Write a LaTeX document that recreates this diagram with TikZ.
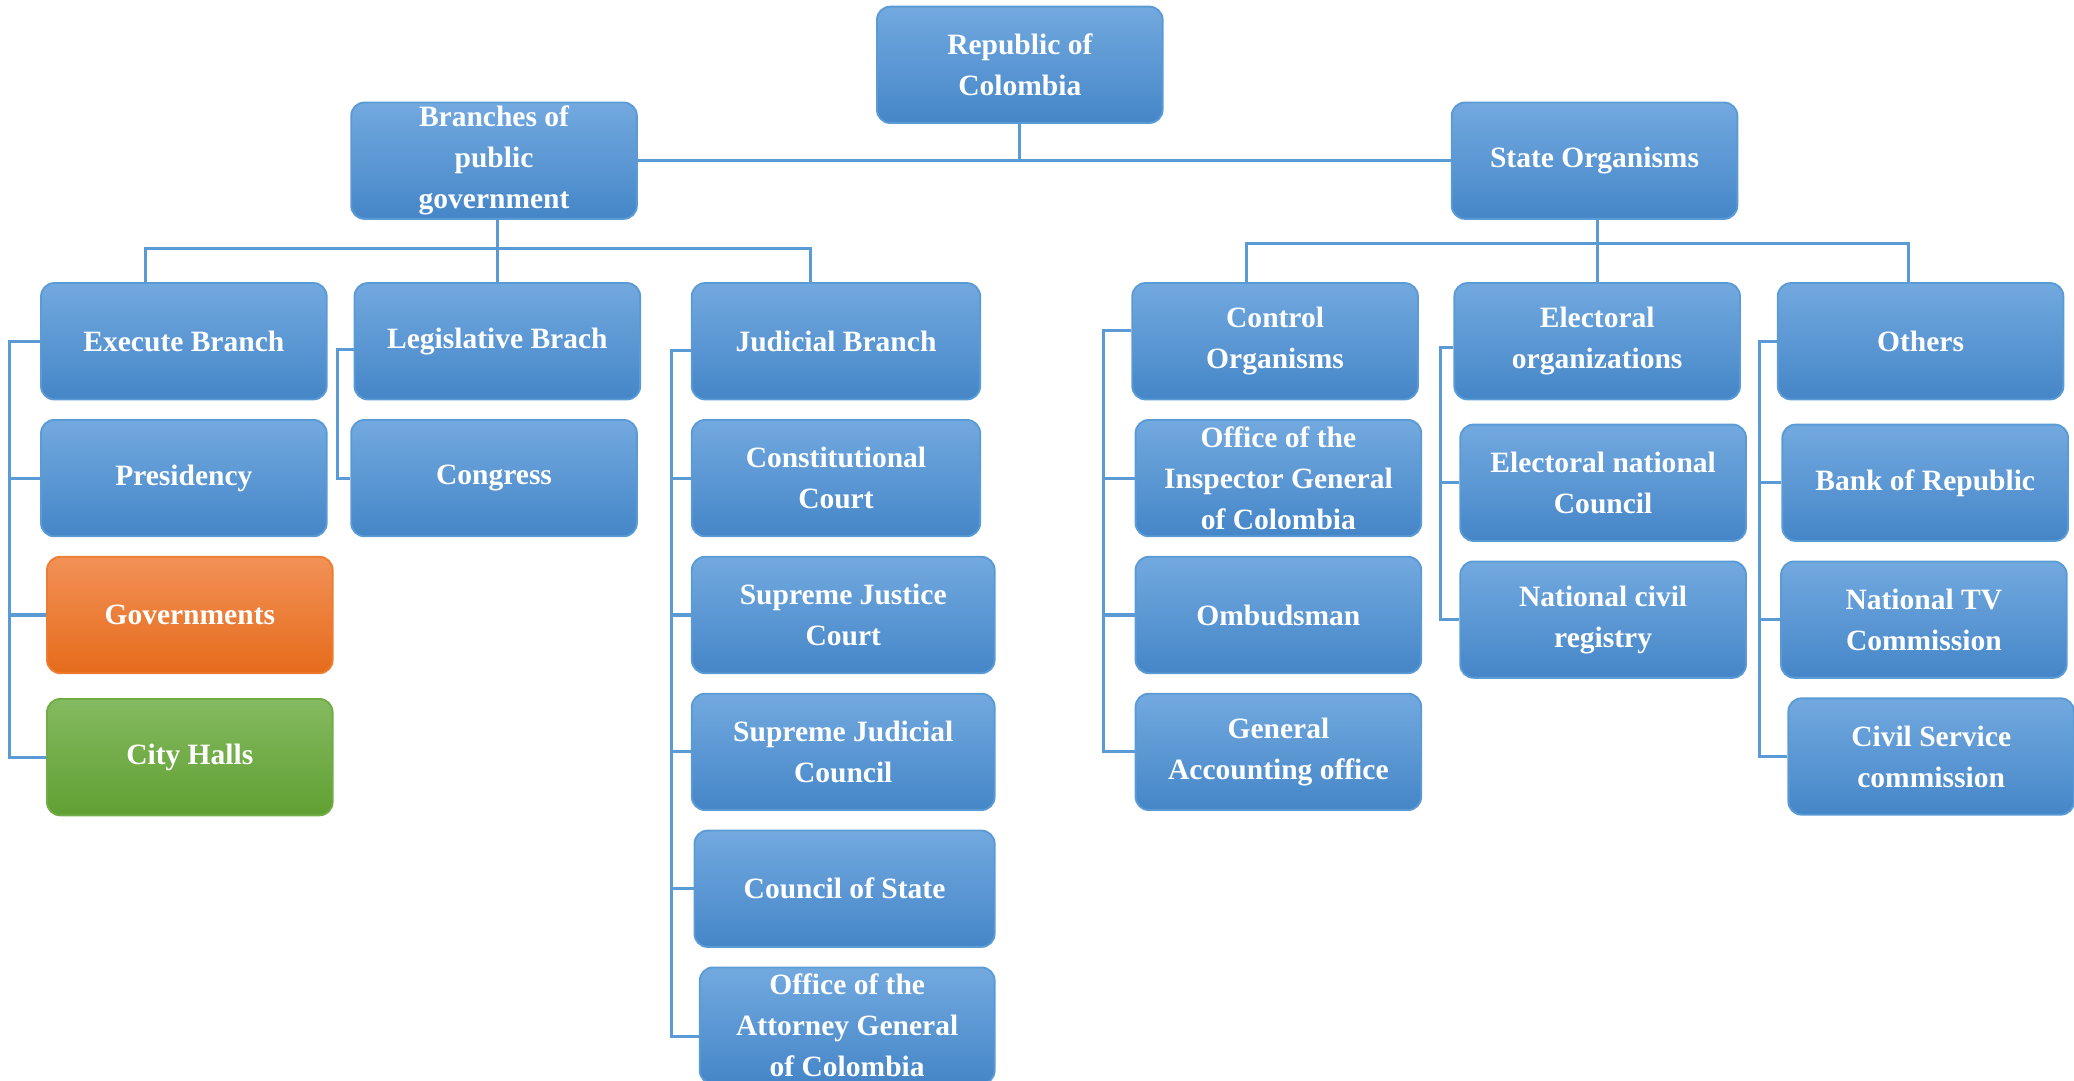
\documentclass[tikz,border=0pt]{standalone}
\usepackage{fontspec}
\setmainfont{Liberation Serif}
\usepackage{xcolor}
\usepackage{tikz}
\usetikzlibrary{shapes.geometric, arrows}
\definecolor{boxtop}{HTML}{72A9DF}
\definecolor{boxbot}{HTML}{4586C8}
\definecolor{boxline}{HTML}{5B9BD5}
\definecolor{orgtop}{HTML}{F29157}
\definecolor{orgbot}{HTML}{E66B1B}
\definecolor{orgline}{HTML}{ED7D31}
\definecolor{grntop}{HTML}{84BA60}
\definecolor{grnbot}{HTML}{60A032}
\definecolor{grnline}{HTML}{70AD47}
\tikzstyle{box} = [rectangle, rounded corners=0.2cm, minimum width=4.32cm, minimum height=1.76cm, inner xsep=2pt, inner ysep=0pt, text centered, align=center, text=white, font=\bfseries\fontsize{12.7}{17.6}\selectfont, draw=boxline, line width=0.8pt, top color=boxtop, bottom color=boxbot]
\tikzstyle{orangebox} = [box, draw=orgline, top color=orgtop, bottom color=orgbot]
\tikzstyle{greenbox} = [box, draw=grnline, top color=grntop, bottom color=grnbot]
\tikzstyle{link} = [draw=boxline, line width=1.3pt]

\begin{document}
\begin{tikzpicture}[x=0.02cm, y=0.02cm, node distance=2.07cm]
        \useasboundingbox (0,0) rectangle (1568,-817);
        \node (root) [box] at (771,-49) {Republic of\\Colombia};
        \node (branches) [box] at (373.5,-121.5) {Branches of\\public\\government};
        \node (state) [box] at (1205.5,-121.5) {State Organisms};
        \draw [link] (branches) -- (state);
        \draw [link] (root) -- (root |- state.west);
        % branches of public government
        \node (exec) [box] at (139,-258) {Execute Branch};
        \node (legis) [box] at (376,-258) {Legislative Brach};
        \node (judi) [box, minimum width=4.36cm] at (632,-258) {Judicial Branch};
        \coordinate (lbus) at ([yshift=-0.44cm]branches.south);
        \draw [link] (branches.south -| legis.north) -- (legis.north);
        \draw [link] ([xshift=-0.58cm]exec.north) -- ([xshift=-0.58cm]exec.north |- lbus) -- ([xshift=-0.38cm]judi.north |- lbus) -- ([xshift=-0.38cm]judi.north);
        \node (pres) [box, below of=exec] {Presidency};
        \node (gov) [orangebox, below of=pres, xshift=0.09cm] {Governments};
        \node (city) [greenbox, below of=gov, yshift=-0.08cm] {City Halls};
        \coordinate (ex) at ([xshift=-0.46cm]exec.west);
        \draw [link] (exec.west) -- (ex) |- (city.west);
        \foreach \n in {pres, gov}
          \draw [link] (\n.west) -- (\n.west -| ex);
        \node (congress) [box, below of=legis, xshift=-0.05cm] {Congress};
        \coordinate (lg) at ([xshift=-0.24cm]legis.west);
        \draw [link] ([yshift=-0.12cm]legis.west) -- ([yshift=-0.12cm]lg) |- (congress.west);
        \node (cons) [box, below of=judi, minimum width=4.36cm] {Constitutional\\Court};
        \node (sjc) [box, below of=cons, xshift=0.11cm, minimum width=4.58cm] {Supreme Justice\\Court};
        \node (sjudc) [box, below of=sjc, minimum width=4.58cm] {Supreme Judicial\\Council};
        \node (cos) [box, below of=sjudc, xshift=0.02cm, minimum width=4.54cm] {Council of State};
        \node (oag) [box, below of=cos, xshift=0.04cm, minimum width=4.46cm] {Office of the\\Attorney General\\of Colombia};
        \coordinate (jd) at ([xshift=-0.3cm]judi.west);
        \draw [link] ([yshift=-0.14cm]judi.west) -- ([yshift=-0.14cm]jd) |- ([yshift=-0.16cm]oag.west);
        \foreach \n in {cons, sjc, sjudc, cos}
          \draw [link] (\n.west) -- (\n.west -| jd);
        % state organisms
        \node (control) [box] at (964,-258) {Control\\Organisms};
        \node (elect) [box] at (1207.5,-258) {Electoral\\organizations};
        \node (others) [box] at (1452,-258) {Others};
        \coordinate (rbus) at ([yshift=-0.36cm]state.south);
        \draw [link] (state.south -| elect.north) -- (elect.north);
        \draw [link] ([xshift=-0.44cm]control.north) -- ([xshift=-0.44cm]control.north |- rbus) -- ([xshift=-0.18cm]others.north |- rbus) -- ([xshift=-0.18cm]others.north);
        \node (insp) [box, below of=control, xshift=0.05cm] {Office of the\\Inspector General\\of Colombia};
        \node (ombud) [box, below of=insp] {Ombudsman};
        \node (genacc) [box, below of=ombud] {General\\Accounting office};
        \coordinate (ct) at ([xshift=-0.42cm]control.west);
        \draw [link] ([yshift=0.16cm]control.west) -- ([yshift=0.16cm]ct) |- (genacc.west);
        \foreach \n in {insp, ombud}
          \draw [link] (\n.west) -- (\n.west -| ct);
        \node (enc) [box, below of=elect, xshift=0.09cm, yshift=-0.07cm] {Electoral national\\Council};
        \node (ncr) [box, below of=enc] {National civil\\registry};
        \coordinate (el) at ([xshift=-0.2cm]elect.west);
        \draw [link] ([yshift=-0.1cm]elect.west) -- ([yshift=-0.1cm]el) |- (ncr.west);
        \draw [link] (enc.west) -- (enc.west -| el);
        \node (bank) [box, below of=others, xshift=0.07cm, yshift=-0.07cm] {Bank of Republic};
        \node (tv) [box, below of=bank, xshift=-0.02cm] {National TV\\Commission};
        \node (civil) [box, below of=tv, xshift=0.11cm] {Civil Service\\commission};
        \coordinate (ot) at ([xshift=-0.26cm]others.west);
        \draw [link] (others.west) -- (ot) |- (civil.west);
        \foreach \n in {bank, tv}
          \draw [link] (\n.west) -- (\n.west -| ot);
\end{tikzpicture}
\end{document}
